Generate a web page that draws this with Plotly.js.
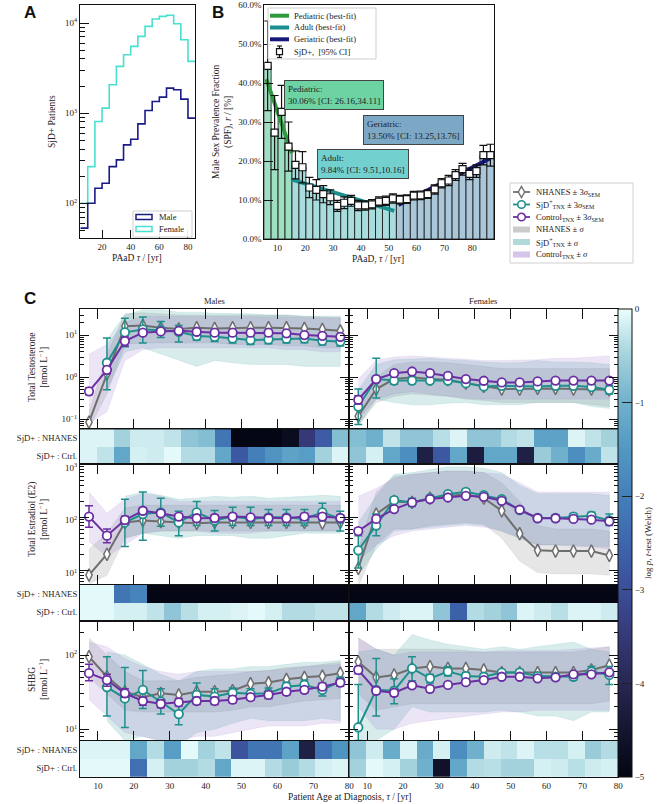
<!DOCTYPE html>
<html><head><meta charset="utf-8">
<script src="https://cdn.plot.ly/plotly-3.0.1.min.js"></script>
<style>html,body{margin:0;padding:0;background:#fff}#fig{width:664px;height:804px}</style>
</head><body><div id="fig"></div>
<script>
// ================= DATA =================
// ---- Panel A: histogram of SjD+ patients (5-yr bins) ----
const HIST_EDGES  = [5,10,15,20,25,30,35,40,45,50,55,60,65,70,75,80,85];
const HIST_MALE   = [53,100,147,167,255,303,445,514,760,1071,1349,1506,1896,1820,1432,880];
const HIST_FEMALE = [100,255,807,1137,2064,3303,4445,5510,7117,9183,11070,11860,12200,9830,6530,3750];

// ---- Panel B: male sex prevalence fraction ----
const SPF_AGE = [6.5,9,11.5,14,16.5,19,21.5,24,26.5,29,31.5,34,36.5,39,41.5,44,46.5,49,51.5,54,56.5,59,61.5,64,66.5,69,71.5,74,76.5,79,81.5,84,86.5];
const SPF_VAL = [44.4,27.3,32.6,23.7,19.0,18.4,13.2,12.6,11.5,10.7,8.5,9.3,9.8,8.6,8.6,8.9,9.6,9.8,10.4,10.1,10.2,11.1,11.2,11.5,12.7,14.3,15.0,16.4,17.9,16.7,17.4,21.5,21.5];
const SPF_ERR = [11.5,9.5,6.8,6.3,3.6,4.0,2.6,2.6,2.2,1.9,1.4,1.5,1.4,1.3,1.2,1.2,1.2,1.2,1.2,1.1,1.1,1.1,1.1,1.1,1.2,1.2,1.3,1.4,1.5,1.5,1.6,2.5,2.8];
const SPF_GROUP = ['Pediatric','Pediatric','Pediatric','Pediatric',
  'Adult','Adult','Adult','Adult','Adult','Adult','Adult','Adult','Adult','Adult','Adult','Adult','Adult','Adult','Adult',
  'Geriatric','Geriatric','Geriatric','Geriatric','Geriatric','Geriatric','Geriatric','Geriatric','Geriatric','Geriatric','Geriatric','Geriatric','Geriatric','Geriatric'];
const FIT_PED_X = [6, 15.2],  FIT_PED_Y = [41, 22];
const FIT_ADU_X = [15, 52],   FIT_ADU_Y = [15.3, 7.2];
const FIT_GER_X = [53.5, 86.5], FIT_GER_Y = [8.7, 20.7];
const FIT_TEXT = {
  Pediatric: 'Pediatric:<br>30.06% [CI: 26.16,34.11]',
  Geriatric: 'Geriatric:<br>13.50% [CI: 13.25,13.76]',
  Adult: 'Adult:<br>9.84% [CI: 9.51,10.16]'
};

// ---- Panel C: hormone levels by age at diagnosis ----
const AGE_C = [7.5,12.5,17.5,22.5,27.5,32.5,37.5,42.5,47.5,52.5,57.5,62.5,67.5,72.5,77.5];
const HEAT_START = 5, HEAT_END = 80, HEAT_N = 16;

// Total testosterone, males
const TT_M_NH = [0.085,1.2,16.3,17,15,14,15,14.4,15,15,15,15,14.4,13.6,12.6];
const TT_M_SJ = [null,2.2,11.6,13.6,13.1,12.0,9.5,9.1,8.3,7.6,7.9,8.2,8.3,7.3,7.0];
const TT_M_CT = [0.46,1.49,7.2,11.4,12.2,12.6,12.0,11.4,11.4,11.4,11.4,11.0,10.0,9.6,9.1];
const TT_M_NH_LO = [0.06,0.4,6,6.5,6.5,6.5,6.5,6.5,6,6,6,5.5,5.5,5,5];
const TT_M_NH_HI = [0.15,3.5,32,34,32,30,30,30,30,30,30,30,28,27,26];
const TT_M_SJ_LO = [null,0.5,4,5,3.5,2.5,1.8,2.5,2.2,2.0,2.0,2.0,1.8,1.8,1.8];
const TT_M_SJ_HI = [null,8,30,40,40,35,35,33,33,32,30,30,28,28,28];
const TT_M_CT_LO = [0.08,0.15,2.5,4.5,5,5,5,5,5,5,5,4.5,4.5,4,4];
const TT_M_CT_HI = [3.5,6,20,28,28,28,28,28,28,28,28,27,26,25,25];
const TT_M_SJ_ELO = [null,0.5,5.3,6.5,8.7,6.8,7.5,7,6.5,6,6.2,6.5,6.6,5.8,5.5];
const TT_M_SJ_EHI = [null,8.5,25,27,21,17,12,11.5,10.5,9.5,10,10.3,10.5,9.5,9];
const TT_M_CT_ELO = [0.38,1.2,5.5,9.8,11,11.5,11,10.5,10.5,10.5,10.5,10,9,8.7,8.2];
const TT_M_CT_EHI = [0.55,1.8,9,13,13.5,13.5,13,12.3,12.3,12.3,12.3,12,11,10.5,10];
// Total testosterone, females
const TT_F_NH = [0.118,0.52,0.90,1.0,0.9,0.87,0.72,0.60,0.52,0.52,0.54,0.54,0.52,0.52,0.50];
const TT_F_SJ = [0.20,0.90,0.83,0.83,0.83,0.83,0.72,0.60,0.62,0.60,0.60,0.62,0.62,0.58,0.50];
const TT_F_CT = [0.29,0.90,1.24,1.36,1.24,1.07,0.90,0.82,0.75,0.75,0.79,0.83,0.83,0.83,0.83];
const TT_F_NH_LO = [0.07,0.25,0.35,0.4,0.38,0.35,0.3,0.28,0.25,0.25,0.25,0.25,0.25,0.22,0.2];
const TT_F_NH_HI = [0.2,1.0,2.0,2.3,2.3,2.2,2.0,1.8,1.6,1.6,1.6,1.6,1.6,1.6,1.6];
const TT_F_SJ_LO = [0.07,0.3,0.25,0.22,0.22,0.24,0.25,0.22,0.22,0.22,0.25,0.25,0.25,0.2,0.18];
const TT_F_SJ_HI = [0.5,2.0,2.6,2.7,2.8,2.6,2.5,2.3,2.2,2.2,2.5,2.3,2.3,2.2,2.0];
const TT_F_CT_LO = [0.1,0.3,0.4,0.45,0.4,0.35,0.32,0.3,0.3,0.3,0.3,0.3,0.3,0.3,0.3];
const TT_F_CT_HI = [0.9,2.5,3.0,3.2,3.0,2.8,2.6,2.5,2.5,2.5,2.6,2.8,2.8,3.0,3.2];
const TT_F_SJ_ELO = [0.075,0.32,0.68,0.7,0.72,0.72,0.63,0.52,0.53,0.52,0.52,0.53,0.53,0.5,0.4];
const TT_F_SJ_EHI = [0.52,2.8,1.0,1.0,0.95,0.95,0.82,0.7,0.72,0.7,0.7,0.72,0.72,0.68,0.62];
const TT_F_CT_ELO = [0.23,0.8,1.14,1.25,1.14,0.99,0.83,0.76,0.69,0.69,0.73,0.76,0.76,0.76,0.76];
const TT_F_CT_EHI = [0.36,1.0,1.35,1.48,1.35,1.15,0.97,0.88,0.81,0.81,0.85,0.9,0.9,0.9,0.9];
// Total estradiol, males
const E2_M_NH = [8.1,20,80,87,83,80,77,80,80,80,80,80,80,78,80];
const E2_M_SJ = [null,null,80,115,124,80,124,87,103,93,100,100,93,124,93];
const E2_M_CT = [103,45,89,133,119,103,96,97,103,100,96,96,103,103,97];
const E2_M_NH_LO = [5.5,8,40,50,55,55,55,55,55,55,55,55,55,55,55];
const E2_M_NH_HI = [25,50,150,170,170,170,170,170,170,170,170,170,170,170,170];
const E2_M_SJ_LO = [null,null,40,50,45,40,45,45,45,40,40,45,50,50,50];
const E2_M_SJ_HI = [null,null,250,300,260,220,230,250,240,250,230,240,250,260,250];
const E2_M_CT_LO = [35,18,30,50,55,55,55,50,50,50,55,55,55,55,55];
const E2_M_CT_HI = [300,120,220,280,250,200,200,200,200,200,200,200,200,200,200];
const E2_M_SJ_ELO = [null,null,28,37,68,45,70,55,70,70,70,70,70,85,55];
const E2_M_SJ_EHI = [null,null,220,300,230,130,200,135,155,155,140,140,140,185,130];
const E2_M_CT_ELO = [65,33,75,115,105,90,84,85,90,88,84,84,90,90,85];
const E2_M_CT_EHI = [165,60,105,150,135,115,110,110,115,112,110,110,118,118,110];
// Total estradiol, females
const E2_F_NH = [10.8,115,200,191,230,255,274,230,133,49,23.7,23,23,23,19];
const E2_F_SJ = [23.7,70,211,191,230,274,303,262,221,137,97,97,103,107,87];
const E2_F_CT = [55,93,143,191,221,237,255,244,205,139,96,96,93,90,84];
const E2_F_NH_LO = [5,30,60,60,70,75,80,75,40,15,9,8.5,8.5,8.5,8];
const E2_F_NH_HI = [25,300,600,650,700,750,750,700,450,200,70,60,60,60,55];
const E2_F_SJ_LO = [8,25,55,60,65,70,75,70,55,40,30,30,30,28,28];
const E2_F_SJ_HI = [80,250,650,700,800,900,900,850,700,400,280,280,280,280,260];
const E2_F_CT_LO = [15,30,45,55,60,65,70,65,55,40,30,30,28,28,25];
const E2_F_CT_HI = [250,350,550,650,700,750,750,700,650,450,300,300,300,300,300];
const E2_F_SJ_ELO = [11,45,185,160,205,248,275,236,198,120,85,85,90,92,70];
const E2_F_SJ_EHI = [45,115,240,230,255,300,335,290,245,155,110,110,118,125,115];
const E2_F_CT_ELO = [49,85,132,178,208,224,242,230,192,130,89,89,86,83,77];
const E2_F_CT_EHI = [62,102,155,205,235,250,268,258,218,148,103,103,100,97,91];
// SHBG, males
const SH_M_NH = [95,51,32,27,30.5,29,32,32,33,41,42.5,47,50,52,57];
const SH_M_SJ = [null,37,26,34,23.5,16,29,27.5,31,30,30.5,37.5,39.5,34,44];
const SH_M_CT = [57,46,30.5,24,22,23,24,24,25,27,29,32,34,37.5,42.5];
const SH_M_NH_LO = [50,30,18,17,17,17,17,17,18,20,20,22,24,25,26];
const SH_M_NH_HI = [170,100,60,45,45,45,50,52,55,60,62,68,70,75,80];
const SH_M_SJ_LO = [null,13,7,8,7,6,9,10,12,14,13,13,13,14,13];
const SH_M_SJ_HI = [null,110,100,75,55,45,60,65,65,70,70,75,80,80,85];
const SH_M_CT_LO = [25,15,9,8,7,7,8,8,9,10,11,11,11,12,12];
const SH_M_CT_HI = [150,130,90,70,60,55,60,60,60,60,62,65,70,72,75];
const SH_M_SJ_ELO = [null,15,10.5,19,16,11.5,22,22,26,26,26,32,34,28,39];
const SH_M_SJ_EHI = [null,95,68,62,35,22,42,35,36,35,36,43,46,42,50];
const SH_M_CT_ELO = [45,38,27,21,19.5,20.5,21.5,21.5,22.5,24.5,26,29,31,34,38];
const SH_M_CT_EHI = [75,55,35,27,25,26,27,27,28,30,32,35,37,41,47];
// SHBG, females
const SH_F_NH = [81,50,54,66,70,66,66,63,58,58,58,58,58,63,73];
const SH_F_SJ = [10.6,34,33,66,48.5,60,52,51,58,58,52,51,51,60,54];
const SH_F_CT = [63,33,31,39,35,39.5,43,46,51,51,48.5,50,55,55,58.5];
const SH_F_NH_LO = [30,18,20,22,22,22,22,22,22,22,22,22,22,22,24];
const SH_F_NH_HI = [170,120,120,120,120,120,115,110,110,110,110,110,110,120,130];
const SH_F_SJ_LO = [5,7,10,20,17,17,17,17,18,17,15,15,13,17,17];
const SH_F_SJ_HI = [110,120,100,190,160,140,130,120,130,120,130,140,150,120,110];
const SH_F_CT_LO = [20,10,10,12,13,14,15,16,17,17,18,18,18,18,18];
const SH_F_CT_HI = [170,120,100,110,110,110,110,110,115,115,115,115,120,125,130];
const SH_F_SJ_ELO = [7,15,22,45,42,52,46,46,53,52,47,46,46,52,40];
const SH_F_SJ_EHI = [40,90,48,95,55,70,58,56,63,64,57,56,56,70,70];
const SH_F_CT_ELO = [56,30,28,36,32,37,40,43,48,48,46,47,52,52,55];
const SH_F_CT_EHI = [70,36,34,42,38,42,46,49,54,54,51,53,58,58,62];

// log p (Welch t-test) heat strips, 16 cells each
const TT_M_HNH = [-0.1,-0.1,-0.5,-0.2,-0.2,-0.3,-0.7,-0.8,-2.2,-5,-5,-5,-4.8,-3.5,-2.7,-0.8];
const TT_M_HCT = [-0.1,-0.3,-1.2,-0.15,-0.2,-0.05,-0.4,-0.4,-1.2,-2.8,-2.0,-1.6,-1.3,-1.4,-0.5,-0.1];
const TT_F_HNH = [-0.8,-1.0,-0.3,-0.7,-0.7,-0.35,-0.1,-0.7,-0.7,-0.4,-0.3,-1.3,-1.3,-0.1,-0.3,-0.5];
const TT_F_HCT = [-0.7,-0.15,-1.2,-1.7,-4.2,-2.8,-1.2,-4.3,-1.2,-1.2,-4.2,-0.6,-1.0,-1.7,-1.1,-0.3];
const E2_M_HNH = [-0.05,-0.05,-2.2,-1.9,-5,-5,-5,-5,-5,-5,-5,-5,-5,-5,-5,-5];
const E2_M_HCT = [-0.05,-0.05,-0.15,-0.15,-0.3,-0.7,-0.35,-0.15,-0.15,-0.1,-0.05,-0.15,-0.4,-0.4,-0.3,-0.3];
const E2_F_HNH = [-5,-5,-5,-5,-5,-5,-5,-5,-5,-5,-5,-5,-5,-5,-5,-5];
const E2_F_HCT = [-1.2,-0.4,-0.2,-0.1,-0.1,-0.7,-2.6,-0.4,-0.5,-0.7,-0.1,-0.2,-0.35,-0.1,-0.1,-0.2];
const SH_M_HNH = [-0.1,-0.1,-0.1,-1.2,-0.4,-1.4,-0.05,-0.5,-0.3,-2.9,-2.2,-2.2,-1.3,-4.2,-2.2,-1.6];
const SH_M_HCT = [-0.05,-0.05,-0.05,-2.3,-0.15,-0.5,-0.5,-0.4,-1.2,-0.1,-0.1,-0.4,-0.6,-0.4,-0.15,-0.1];
const SH_F_HNH = [-0.7,-0.2,-1.1,-0.1,-1.1,-0.15,-1.7,-1.0,-0.2,-0.3,-0.1,-0.35,-0.35,-0.15,-0.6,-0.4];
const SH_F_HCT = [-0.5,-0.05,-0.15,-0.5,-1.0,-4.6,-1.2,-0.4,-0.35,-0.5,-0.5,-0.15,-0.2,-0.35,-0.2,-0.15];

const HEAT_ROWS = ['SjD+ : Ctrl.', 'SjD+ : NHANES'];
const AXIS_TICKS_C = [10,20,30,40,50,60,70,80];

// ================= STYLE / LAYOUT =================
const W = 664, H = 804;
const fx = p => p / W, fy = p => 1 - p / H;
const FONT = '"Liberation Serif", "Times New Roman", serif';
const C_MALE = '#1b1b86', C_FEMALE = '#48e0d0';
const C_PED = '#2e9a3e', C_ADU = '#1c8f8f', C_GER = '#17177a';
const BAR_COL = {Pediatric:'#9edfc2', Adult:'#a9dcdc', Geriatric:'#a9c7d9'};
const BOX_COL = {Pediatric:'#6dd3a3', Adult:'#72d0cf', Geriatric:'#7ca8c6'};
const C_NH = '#6e6e6e', C_SJ = '#1f8f8c', C_CT = '#6b2fa3';
const F_NH = 'rgba(140,140,140,0.22)', F_SJ = 'rgba(60,160,160,0.2)', F_CT = 'rgba(150,110,200,0.18)';
const ICE = [[0,'#040613'],[0.1,'#141530'],[0.2,'#272753'],[0.3,'#353977'],[0.4,'#3b4e9a'],
             [0.5,'#3e66ad'],[0.6,'#447fb9'],[0.7,'#5298c3'],[0.8,'#6fb1cc'],[0.9,'#a4d2dc'],[1,'#eafdfd']];

function logMinor(d0, d1){ const v=[]; for(let d=d0; d<=d1; d++) for(let k=2;k<=9;k++) v.push(k*Math.pow(10,d)); return v; }

const traces = [];
const shapes = [];
const annotations = [];
const layout = {
  width: W, height: H, margin:{l:0,r:0,t:0,b:0},
  paper_bgcolor:'white', plot_bgcolor:'white',
  font:{family:FONT, size:9, color:'#222'},
  showlegend:false, hovermode:false, barmode:'overlay'
};

function baseAxis(extra){
  return Object.assign({showgrid:false, zeroline:false, showline:true, linecolor:'#111', linewidth:1,
    ticks:'inside', tickcolor:'#111', tickfont:{family:FONT, size:9, color:'#222'}}, extra);
}

// ---------- Panel A ----------
layout.xaxis = baseAxis({domain:[fx(80),fx(195)], anchor:'y', range:[4.6,84.9], tickvals:[20,40,60,80], ticklen:8, mirror:true});
layout.yaxis = baseAxis({domain:[fy(238),fy(5)], anchor:'x', type:'log', range:[1.615,4.2],
  tickvals:[100,1000,10000], ticktext:['10<sup>2</sup>','10<sup>3</sup>','10<sup>4</sup>'], ticklen:9, mirror:true,
  minor:{tickvals:logMinor(1,4), ticks:'inside', ticklen:5, tickcolor:'#111'}});
traces.push({type:'scatter', mode:'lines', x:HIST_EDGES, y:HIST_FEMALE.concat([HIST_FEMALE[HIST_FEMALE.length-1]]),
  line:{shape:'hv', color:C_FEMALE, width:1.6}, xaxis:'x', yaxis:'y'});
traces.push({type:'scatter', mode:'lines', x:HIST_EDGES, y:HIST_MALE.concat([HIST_MALE[HIST_MALE.length-1]]),
  line:{shape:'hv', color:C_MALE, width:1.6}, xaxis:'x', yaxis:'y'});

// ---------- Panel B ----------
layout.xaxis2 = baseAxis({domain:[fx(264.3),fx(494)], anchor:'y2', range:[5.3,87.8], tickvals:[10,20,30,40,50,60,70,80], ticks:'', mirror:true});
layout.yaxis2 = baseAxis({domain:[fy(239),fy(5)], anchor:'x2', range:[0,60], tickvals:[0,10,20,30,40,50,60],
  ticktext:['0.0%','10.0%','20.0%','30.0%','40.0%','50.0%','60.0%'], ticklen:9, mirror:true});
traces.push({type:'bar', x:SPF_AGE, y:SPF_VAL, width:2.5,
  marker:{color:SPF_GROUP.map(g=>BAR_COL[g]), line:{color:'#111', width:0.8}}, xaxis:'x2', yaxis:'y2'});
traces.push({type:'scatter', mode:'lines', x:FIT_PED_X, y:FIT_PED_Y, line:{color:C_PED, width:4}, xaxis:'x2', yaxis:'y2'});
traces.push({type:'scatter', mode:'lines', x:FIT_ADU_X, y:FIT_ADU_Y, line:{color:C_ADU, width:4}, xaxis:'x2', yaxis:'y2'});
traces.push({type:'scatter', mode:'lines', x:FIT_GER_X, y:FIT_GER_Y, line:{color:C_GER, width:4}, xaxis:'x2', yaxis:'y2'});
traces.push({type:'scatter', mode:'markers', x:SPF_AGE, y:SPF_VAL,
  error_y:{type:'data', array:SPF_ERR, color:'#111', thickness:1.2, width:4},
  marker:{symbol:'square', size:7, color:'white', line:{color:'#111', width:1.2}}, xaxis:'x2', yaxis:'y2'});
[['Pediatric',284,80],['Geriatric',362.7,115],['Adult',316.7,149.3]].forEach(([k,x,y])=>{
  annotations.push({xref:'paper', yref:'paper', x:fx(x), y:fy(y), xanchor:'left', yanchor:'top', showarrow:false,
    text:FIT_TEXT[k], align:'left', bgcolor:BOX_COL[k], bordercolor:'#444', borderwidth:1, borderpad:3,
    font:{family:FONT, size:9, color:'#222'}});
});

// ---------- Panel C ----------
const ROWS = [
  {key:'TT', top:309, bot:429.3, hbot:464.3, range:[-1.24,1.62], tv:[0.1,1,10],
   tt:['10<sup>−1</sup>','10<sup>0</sup>','10<sup>1</sup>'], minor:logMinor(-2,1),
   title:'Total Testosterone<br>[nmol L<sup>−1</sup>]', ty:368, shift:0},
  {key:'E2', top:464.3, bot:585, hbot:621, range:[0.72,3.002], tv:[10,100,1000],
   tt:['10<sup>1</sup>','10<sup>2</sup>','10<sup>3</sup>'], minor:logMinor(0,2),
   title:'Total Estradiol (E2)<br>[pmol L<sup>−1</sup>]', ty:520, shift:3},
  {key:'SH', top:621, bot:741, hbot:776.7, range:[0.84,2.46], tv:[10,100],
   tt:['10<sup>1</sup>','10<sup>2</sup>'], minor:logMinor(0,2),
   title:'SHBG<br>[nmol L<sup>−1</sup>]', ty:680, shift:0}
];
const COLS = [{key:'M', x0:80, x1:349.3}, {key:'F', x0:349.3, x1:618.3}];
const SERIES = {
  TT_M:{NH:TT_M_NH,SJ:TT_M_SJ,CT:TT_M_CT,NH_LO:TT_M_NH_LO,NH_HI:TT_M_NH_HI,SJ_LO:TT_M_SJ_LO,SJ_HI:TT_M_SJ_HI,CT_LO:TT_M_CT_LO,CT_HI:TT_M_CT_HI,SJ_ELO:TT_M_SJ_ELO,SJ_EHI:TT_M_SJ_EHI,CT_ELO:TT_M_CT_ELO,CT_EHI:TT_M_CT_EHI,HNH:TT_M_HNH,HCT:TT_M_HCT},
  TT_F:{NH:TT_F_NH,SJ:TT_F_SJ,CT:TT_F_CT,NH_LO:TT_F_NH_LO,NH_HI:TT_F_NH_HI,SJ_LO:TT_F_SJ_LO,SJ_HI:TT_F_SJ_HI,CT_LO:TT_F_CT_LO,CT_HI:TT_F_CT_HI,SJ_ELO:TT_F_SJ_ELO,SJ_EHI:TT_F_SJ_EHI,CT_ELO:TT_F_CT_ELO,CT_EHI:TT_F_CT_EHI,HNH:TT_F_HNH,HCT:TT_F_HCT},
  E2_M:{NH:E2_M_NH,SJ:E2_M_SJ,CT:E2_M_CT,NH_LO:E2_M_NH_LO,NH_HI:E2_M_NH_HI,SJ_LO:E2_M_SJ_LO,SJ_HI:E2_M_SJ_HI,CT_LO:E2_M_CT_LO,CT_HI:E2_M_CT_HI,SJ_ELO:E2_M_SJ_ELO,SJ_EHI:E2_M_SJ_EHI,CT_ELO:E2_M_CT_ELO,CT_EHI:E2_M_CT_EHI,HNH:E2_M_HNH,HCT:E2_M_HCT},
  E2_F:{NH:E2_F_NH,SJ:E2_F_SJ,CT:E2_F_CT,NH_LO:E2_F_NH_LO,NH_HI:E2_F_NH_HI,SJ_LO:E2_F_SJ_LO,SJ_HI:E2_F_SJ_HI,CT_LO:E2_F_CT_LO,CT_HI:E2_F_CT_HI,SJ_ELO:E2_F_SJ_ELO,SJ_EHI:E2_F_SJ_EHI,CT_ELO:E2_F_CT_ELO,CT_EHI:E2_F_CT_EHI,HNH:E2_F_HNH,HCT:E2_F_HCT},
  SH_M:{NH:SH_M_NH,SJ:SH_M_SJ,CT:SH_M_CT,NH_LO:SH_M_NH_LO,NH_HI:SH_M_NH_HI,SJ_LO:SH_M_SJ_LO,SJ_HI:SH_M_SJ_HI,CT_LO:SH_M_CT_LO,CT_HI:SH_M_CT_HI,SJ_ELO:SH_M_SJ_ELO,SJ_EHI:SH_M_SJ_EHI,CT_ELO:SH_M_CT_ELO,CT_EHI:SH_M_CT_EHI,HNH:SH_M_HNH,HCT:SH_M_HCT},
  SH_F:{NH:SH_F_NH,SJ:SH_F_SJ,CT:SH_F_CT,NH_LO:SH_F_NH_LO,NH_HI:SH_F_NH_HI,SJ_LO:SH_F_SJ_LO,SJ_HI:SH_F_SJ_HI,CT_LO:SH_F_CT_LO,CT_HI:SH_F_CT_HI,SJ_ELO:SH_F_SJ_ELO,SJ_EHI:SH_F_SJ_EHI,CT_ELO:SH_F_CT_ELO,CT_EHI:SH_F_CT_EHI,HNH:SH_F_HNH,HCT:SH_F_HCT}
};
const heatEdges = Array.from({length:HEAT_N+1}, (_,i)=> HEAT_START + i*(HEAT_END-HEAT_START)/HEAT_N);

function band(xs, lo, hi, fill, xa, ya){
  const px=[], up=[], dn=[];
  xs.forEach((x,i)=>{ if(lo[i]!=null && hi[i]!=null){ px.push(x); up.push(hi[i]); dn.push(lo[i]); } });
  return {type:'scatter', mode:'lines', x:px.concat(px.slice().reverse()), y:up.concat(dn.slice().reverse()),
    fill:'toself', fillcolor:fill, line:{width:0.6, color:fill}, xaxis:xa, yaxis:ya};
}
function errBar(v, lo, hi, color){
  return {type:'data', symmetric:false, color:color, thickness:1.5, width:4,
    array: v.map((m,i)=> (m==null||hi[i]==null)? null : hi[i]-m),
    arrayminus: v.map((m,i)=> (m==null||lo[i]==null)? null : m-lo[i])};
}

let firstHeat = true;
ROWS.forEach((row, r)=>{
  COLS.forEach((col, c)=>{
    const S = SERIES[row.key+'_'+col.key];
    const nL = 3 + r*4 + c, nH = 3 + r*4 + 2 + c;
    layout['xaxis'+nL] = baseAxis({domain:[fx(col.x0),fx(col.x1)], anchor:'y'+nL, range:[HEAT_START,HEAT_END],
      tickvals:AXIS_TICKS_C, showticklabels:false, ticklen:10, mirror:'ticks'});
    layout['yaxis'+nL] = baseAxis({domain:[fy(row.bot),fy(row.top)], anchor:'x'+nL, type:'log', range:row.range,
      tickvals:row.tv, ticktext:row.tt, showticklabels:c===0, ticklen:9, mirror:'ticks', ticklabelshift:row.shift,
      minor:{tickvals:row.minor, ticks:'inside', ticklen:4, tickcolor:'#111'}});
    layout['xaxis'+nH] = baseAxis({domain:[fx(col.x0),fx(col.x1)], anchor:'y'+nH, range:[HEAT_START,HEAT_END],
      tickvals:AXIS_TICKS_C, showticklabels:r===2, ticks:'', mirror:true});
    layout['yaxis'+nH] = baseAxis({domain:[fy(row.hbot),fy(row.bot)], anchor:'x'+nH, range:[-0.5,1.5],
      tickvals:[0,1], ticktext:HEAT_ROWS, showticklabels:c===0, ticks:'', mirror:true,
      tickfont:{family:FONT, size:8.7, color:'#222'}});
    const xa='x'+nL, ya='y'+nL;
    traces.push(band(AGE_C, S.NH_LO, S.NH_HI, F_NH, xa, ya));
    traces.push(band(AGE_C, S.SJ_LO, S.SJ_HI, F_SJ, xa, ya));
    traces.push(band(AGE_C, S.CT_LO, S.CT_HI, F_CT, xa, ya));
    traces.push({type:'scatter', mode:'lines+markers', x:AGE_C, y:S.NH, line:{color:C_NH, width:2},
      marker:{symbol:'diamond-tall', size:9, color:'white', line:{color:C_NH, width:1.5}}, xaxis:xa, yaxis:ya});
    traces.push({type:'scatter', mode:'lines+markers', x:AGE_C, y:S.SJ, line:{color:C_SJ, width:2},
      error_y:errBar(S.SJ, S.SJ_ELO, S.SJ_EHI, C_SJ),
      marker:{symbol:'circle', size:8.5, color:'white', line:{color:C_SJ, width:1.8}}, xaxis:xa, yaxis:ya});
    traces.push({type:'scatter', mode:'lines+markers', x:AGE_C, y:S.CT, line:{color:C_CT, width:2},
      error_y:errBar(S.CT, S.CT_ELO, S.CT_EHI, C_CT),
      marker:{symbol:'circle', size:8.5, color:'white', line:{color:C_CT, width:1.8}}, xaxis:xa, yaxis:ya});
    const hm = {type:'heatmap', x:heatEdges, y:[0,1], z:[S.HCT, S.HNH], zmin:-5, zmax:0, colorscale:ICE,
      xaxis:'x'+nH, yaxis:'y'+nH, showscale:firstHeat};
    if(firstHeat){
      hm.colorbar = {x:fx(618.3), xanchor:'left', xref:'paper', y:fy(309), yanchor:'top', yref:'paper',
        len:(776.7-309)/H, lenmode:'fraction', thickness:14, thicknessmode:'pixels', xpad:0, ypad:0,
        outlinewidth:1, outlinecolor:'#111', ticks:'inside', ticklen:10, tickcolor:'#222',
        tickvals:[0,-1,-2,-3,-4,-5], ticktext:['0','−1','−2','−3','−4','−5'],
        tickfont:{family:FONT, size:9, color:'#222'},
        title:{text:'log <i>p</i>, <i>t</i>-test (Welch)', side:'right', font:{family:FONT, size:9, color:'#222'}}};
      firstHeat = false;
    }
    traces.push(hm);
  });
  annotations.push({xref:'paper', yref:'paper', x:fx(38), y:fy(row.ty), text:row.title, textangle:-90,
    showarrow:false, xanchor:'center', yanchor:'middle', font:{family:FONT, size:9.5, color:'#222'}});
});

// ---------- text annotations ----------
const txt = (x,y,t,o={}) => annotations.push(Object.assign({xref:'paper', yref:'paper', x:fx(x), y:fy(y), text:t,
  showarrow:false, xanchor:'center', yanchor:'middle', font:{family:FONT, size:9.5, color:'#222'}}, o));
txt(30,12,'<b>A</b>',{font:{family:'Liberation Sans, Arial, sans-serif', size:17, color:'#111'}});
txt(218,12,'<b>B</b>',{font:{family:'Liberation Sans, Arial, sans-serif', size:17, color:'#111'}});
txt(30,299,'<b>C</b>',{font:{family:'Liberation Sans, Arial, sans-serif', size:17, color:'#111'}});
txt(52,122,'SjD+ Patients',{textangle:-90});
txt(137,258,'PAaD <i>τ</i> / [yr]');
txt(222,122,'Male Sex Prevalence Fraction<br>(SPF), <i>r</i> / [%]',{textangle:-90});
txt(378,259,'PAaD, <i>τ</i> / [yr]');
txt(215,301,'Males',{font:{family:FONT, size:8.5, color:'#222'}});
txt(483,301,'Females',{font:{family:FONT, size:8.5, color:'#222'}});
txt(349,797,'Patient Age at Diagnosis, <i>τ</i> / [yr]');

// ---------- legends (drawn as layout decorations) ----------
const P = (x,y)=> fx(x).toFixed(5)+','+fy(y).toFixed(5);
function lbox(x0,y0,x1,y1){ shapes.push({type:'rect', xref:'paper', yref:'paper', x0:fx(x0), x1:fx(x1), y0:fy(y1), y1:fy(y0),
  fillcolor:'rgba(255,255,255,0.9)', line:{color:'#cfcfcf', width:1}}); }
function lline(x0,x1,y,color,w){ shapes.push({type:'line', xref:'paper', yref:'paper', x0:fx(x0), x1:fx(x1), y0:fy(y), y1:fy(y), line:{color, width:w}}); }
function lrect(x0,x1,y,h,fill,lc,lw){ shapes.push({type:'rect', xref:'paper', yref:'paper', x0:fx(x0), x1:fx(x1), y0:fy(y+h/2), y1:fy(y-h/2), fillcolor:fill, line:{color:lc, width:lw}}); }
function lcircle(cx,cy,r,lc){ shapes.push({type:'circle', xref:'paper', yref:'paper', x0:fx(cx-r), x1:fx(cx+r), y0:fy(cy+r), y1:fy(cy-r), fillcolor:'white', line:{color:lc, width:1.6}}); }
function ldiamond(cx,cy,w,h,lc){ shapes.push({type:'path', xref:'paper', yref:'paper',
  path:'M'+P(cx,cy-h)+' L'+P(cx+w,cy)+' L'+P(cx,cy+h)+' L'+P(cx-w,cy)+' Z', fillcolor:'white', line:{color:lc, width:1.4}}); }
function ltext(x,y,t,size){ annotations.push({xref:'paper', yref:'paper', x:fx(x), y:fy(y), text:t, showarrow:false,
  xanchor:'left', yanchor:'middle', font:{family:FONT, size:size||8.5, color:'#222'}}); }

// legend A
lbox(133,211,192,237);
lrect(136,152,217,5,'white',C_MALE,1.5); ltext(157,217,'Male');
lrect(136,152,229,5,'white',C_FEMALE,1.5); ltext(157,229,'Female');
// legend B
lbox(268,8,376,59);
lline(270,289,15.7,C_PED,4);  ltext(292,15.7,'Pediatric (best-fit)');
lline(270,289,27.5,C_ADU,4);  ltext(292,27.5,'Adult (best-fit)');
lline(270,289,39.3,C_GER,4);  ltext(292,39.3,'Geriatric (best-fit)');
shapes.push({type:'line', xref:'paper', yref:'paper', x0:fx(279.5), x1:fx(279.5), y0:fy(46), y1:fy(57.5), line:{color:'#111', width:1.2}});
shapes.push({type:'line', xref:'paper', yref:'paper', x0:fx(277), x1:fx(282), y0:fy(46), y1:fy(46), line:{color:'#111', width:1.2}});
shapes.push({type:'line', xref:'paper', yref:'paper', x0:fx(277), x1:fx(282), y0:fy(57.5), y1:fy(57.5), line:{color:'#111', width:1.2}});
lrect(276.5,282.5,51.7,6,'white','#111',1.2);
ltext(292,51.7,'SjD+,  [95% CI]');
// legend C
lbox(510,183,633,263);
const LY = [192,204.5,217,229.5,242,254.5];
lline(513,530,LY[0],C_NH,1.8); shapes.push({type:'line', xref:'paper', yref:'paper', x0:fx(521.5), x1:fx(521.5), y0:fy(LY[0]-6), y1:fy(LY[0]+6), line:{color:C_NH, width:1}});
ldiamond(521.5,LY[0],3.2,5.5,C_NH);
lline(513,530,LY[1],C_SJ,1.8); lcircle(521.5,LY[1],3.8,C_SJ);
lline(513,530,LY[2],C_CT,1.8); lcircle(521.5,LY[2],3.8,C_CT);
lrect(513,530,LY[3],6,'rgba(140,140,140,0.45)','rgba(0,0,0,0)',0);
lrect(513,530,LY[4],6,'rgba(60,160,160,0.4)','rgba(0,0,0,0)',0);
lrect(513,530,LY[5],6,'rgba(150,110,200,0.4)','rgba(0,0,0,0)',0);
ltext(534,LY[0],'NHANES ± 3<i>σ</i><sub>SEM</sub>');
ltext(534,LY[1],'SjD<sup>+</sup><sub>TNX</sub> ± 3<i>σ</i><sub>SEM</sub>');
ltext(534,LY[2],'Control<sub>TNX</sub> ± 3<i>σ</i><sub>SEM</sub>');
ltext(534,LY[3],'NHANES ± <i>σ</i>');
ltext(534,LY[4],'SjD<sup>+</sup><sub>TNX</sub> ± <i>σ</i>');
ltext(534,LY[5],'Control<sub>TNX</sub> ± <i>σ</i>');

layout.shapes = shapes;
layout.annotations = annotations;
Plotly.newPlot('fig', traces, layout, {staticPlot:true, displayModeBar:false});
</script></body></html>
